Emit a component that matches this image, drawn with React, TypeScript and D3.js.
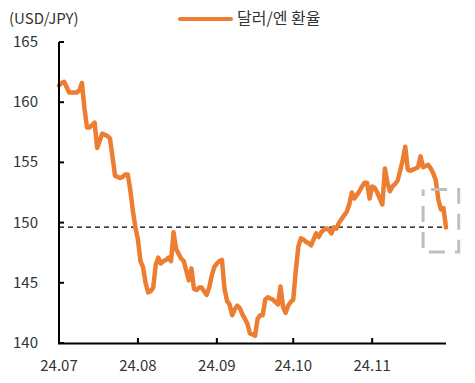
import React from "react";
import * as d3 from "d3";

const dates: string[] = [
  "2024-07-01","2024-07-02","2024-07-03","2024-07-05","2024-07-08","2024-07-09","2024-07-10","2024-07-11","2024-07-12","2024-07-13","2024-07-14","2024-07-15","2024-07-16","2024-07-18","2024-07-19","2024-07-20","2024-07-21","2024-07-22","2024-07-23","2024-07-24","2024-07-25","2024-07-26","2024-07-27","2024-07-28","2024-07-29","2024-07-30","2024-07-31",
  "2024-08-01","2024-08-02","2024-08-03","2024-08-04","2024-08-05","2024-08-06","2024-08-07","2024-08-08","2024-08-09","2024-08-10","2024-08-11","2024-08-12","2024-08-13","2024-08-14","2024-08-15","2024-08-16","2024-08-17","2024-08-18","2024-08-19","2024-08-20","2024-08-21","2024-08-22","2024-08-23","2024-08-24","2024-08-25","2024-08-26","2024-08-27","2024-08-28","2024-08-29","2024-08-30","2024-08-31",
  "2024-09-01","2024-09-02","2024-09-03","2024-09-04","2024-09-05","2024-09-06","2024-09-07","2024-09-08","2024-09-09","2024-09-10","2024-09-11","2024-09-12","2024-09-13","2024-09-14","2024-09-15","2024-09-16","2024-09-17","2024-09-18","2024-09-19","2024-09-20","2024-09-21","2024-09-22","2024-09-23","2024-09-24","2024-09-25","2024-09-26","2024-09-27","2024-09-28","2024-09-29","2024-09-30",
  "2024-10-01","2024-10-02","2024-10-03","2024-10-04","2024-10-05","2024-10-06","2024-10-07","2024-10-08","2024-10-09","2024-10-10","2024-10-11","2024-10-12","2024-10-13","2024-10-14","2024-10-15","2024-10-16","2024-10-17","2024-10-18","2024-10-19","2024-10-20","2024-10-21","2024-10-22","2024-10-23","2024-10-24","2024-10-25","2024-10-26","2024-10-27","2024-10-28","2024-10-29","2024-10-30","2024-10-31",
  "2024-11-01","2024-11-02","2024-11-03","2024-11-04","2024-11-05","2024-11-06","2024-11-07","2024-11-08","2024-11-09","2024-11-10","2024-11-11","2024-11-12","2024-11-13","2024-11-14","2024-11-15","2024-11-16","2024-11-17","2024-11-18","2024-11-19","2024-11-20","2024-11-21","2024-11-22","2024-11-23","2024-11-24","2024-11-25","2024-11-26","2024-11-27","2024-11-28","2024-11-29","2024-11-30"
];

const usdJpy: number[] = [
  161.4,161.6,161.7,160.8,160.8,161.0,161.6,159.5,157.9,157.9,158.1,158.3,156.2,157.4,157.3,157.2,157.0,155.5,153.9,153.8,153.7,153.8,154.0,154.0,152.7,151.0,149.6,
  148.6,146.8,146.3,145.0,144.2,144.3,144.6,146.5,147.1,146.6,146.8,146.9,147.1,146.8,149.2,147.8,147.4,147.0,146.8,146.0,145.2,146.2,144.5,144.4,144.6,144.6,144.3,144.0,144.6,145.6,146.3,
  146.6,146.8,146.9,144.5,143.5,143.2,142.3,142.8,143.1,142.9,142.4,142.0,141.6,140.8,140.7,140.6,142.0,142.3,142.3,143.6,143.8,143.7,143.6,143.4,143.2,144.7,143.0,142.5,143.1,143.4,
  143.6,146.0,148.0,148.7,148.6,148.4,148.3,148.1,148.6,149.1,148.8,149.2,149.4,149.5,149.4,149.1,149.6,149.5,150.0,150.3,150.6,150.9,151.5,152.5,152.0,152.3,152.6,153.0,153.3,153.3,152.0,
  153.0,152.9,152.5,152.0,151.5,154.5,153.3,152.6,153.0,153.2,153.5,154.3,155.2,156.3,154.4,154.3,154.4,154.5,154.6,155.5,154.6,154.7,154.8,154.5,154.1,153.5,151.9,151.1,151.2,149.6
];

const yTicks: number[] = [140, 145, 150, 155, 160, 165];
const xTickDates: string[] = ["2024-07-01", "2024-08-01", "2024-09-01", "2024-10-01", "2024-11-01"];
const xTickLabels: string[] = ["24.07", "24.08", "24.09", "24.10", "24.11"];
const refLevel = 149.63;
const boxDates: string[] = ["2024-11-21", "2024-12-05"];
const boxRange: number[] = [147.55, 152.75];
const unitLabel = "(USD/JPY)";
const seriesName = "달러/엔 환율";

const W = 475;
const H = 383;
const FONT = "'Noto Sans CJK KR', 'Noto Sans', sans-serif";
const ORANGE = "#ED7D31";
const TEXT = "#333";

export default function App() {
  const parse = d3.timeParse("%Y-%m-%d");
  const data = dates.map((d, i) => ({ date: parse(d) as Date, value: usdJpy[i] }));

  const x = d3
    .scaleTime()
    .domain([parse("2024-07-01") as Date, parse("2024-11-30") as Date])
    .range([59, 446]);
  const y = d3.scaleLinear().domain([140, 165]).range([343, 42]);

  const line = d3
    .line<{ date: Date; value: number }>()
    .x((d) => x(d.date))
    .y((d) => y(d.value))
    .curve(d3.curveLinear);

  const bx0 = x(parse(boxDates[0]) as Date);
  const bx1 = x(parse(boxDates[1]) as Date);
  const by0 = y(boxRange[1]);
  const by1 = y(boxRange[0]);

  return (
    <svg
      width={W}
      height={H}
      style={{ position: "absolute", left: 0, top: 0, background: "#fff" }}
      fontFamily={FONT}
    >
      <rect width={W} height={H} fill="#fff" />
      {/* unit label */}
      <text x={9} y={24} fontSize={15} fill={TEXT}>{unitLabel}</text>
      {/* legend */}
      <line x1={180} x2={231} y1={19} y2={19} stroke={ORANGE} strokeWidth={4} strokeLinecap="round" />
      <text x={237} y={24} fontSize={16} fill={TEXT}>{seriesName}</text>

      {/* y tick labels */}
      {yTicks.map((t) => (
        <text key={t} x={38} y={y(t) + 5} fontSize={15} textAnchor="end" fill={TEXT}>
          {t}
        </text>
      ))}
      {/* x tick labels */}
      {xTickDates.map((d, i) => (
        <text
          key={d}
          x={x(parse(d) as Date)}
          y={371}
          fontSize={15}
          textAnchor="middle"
          fill={TEXT}
        >
          {xTickLabels[i]}
        </text>
      ))}

      {/* reference dashed line */}
      <line
        x1={59}
        x2={446}
        y1={y(refLevel)}
        y2={y(refLevel)}
        stroke="#000"
        strokeWidth={1.3}
        strokeDasharray="5 4"
      />

      {/* series */}
      <path
        d={line(data) || ""}
        fill="none"
        stroke={ORANGE}
        strokeWidth={4.5}
        strokeLinejoin="round"
        strokeLinecap="round"
      />

      {/* highlight box */}
      <rect
        x={bx0}
        y={by0}
        width={bx1 - bx0}
        height={by1 - by0}
        fill="none"
        stroke="#BFBFBF"
        strokeWidth={3}
        strokeDasharray="16 10"
        strokeDashoffset={-8}
      />

      {/* axes */}
      <line x1={59} x2={59} y1={42} y2={344} stroke="#000" strokeWidth={2} />
      <line x1={58} x2={446} y1={343.5} y2={343.5} stroke="#000" strokeWidth={2} />
      {yTicks.map((t) => (
        <line key={"yt" + t} x1={59} x2={64} y1={y(t)} y2={y(t)} stroke="#000" strokeWidth={2} />
      ))}
      {xTickDates.map((d) => (
        <line
          key={"xt" + d}
          x1={x(parse(d) as Date)}
          x2={x(parse(d) as Date)}
          y1={343}
          y2={338}
          stroke="#000"
          strokeWidth={2}
        />
      ))}
    </svg>
  );
}
